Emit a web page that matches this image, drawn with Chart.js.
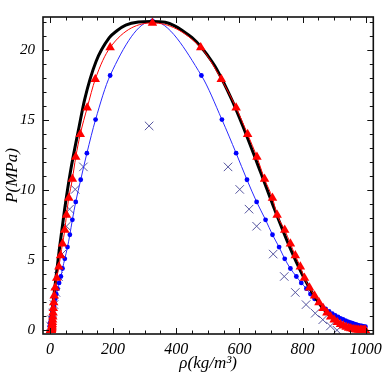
<!DOCTYPE html>
<html lang="en">
<head>
<meta charset="UTF-8">
<title>P vs rho</title>
<script src="https://cdnjs.cloudflare.com/ajax/libs/Chart.js/4.4.1/chart.umd.min.js"></script>
<style>
  html, body { margin: 0; padding: 0; background: #fff; }
  #wrap { width: 388px; height: 382px; }
</style>
</head>
<body>
<div id="wrap"><canvas id="chart"></canvas></div>
<script>
// reference coexistence curve (thick black)
const blackRho = [0.005, 0.6, 2.55, 7.86, 12.8, 20.1, 30.7, 46.2, 64.6, 92.8, 110, 146, 188, 212, 240, 280, 322,
                  365, 395, 420, 450, 480, 513, 527.6, 574.7, 610.7, 667.1, 712.1, 759, 799.1, 834, 864.7, 917, 958.4, 999.8];
const blackP   = [0.0006, 0.101, 0.476, 1.555, 2.548, 3.976, 5.95, 8.588, 11.29, 14.59, 16.5, 19.2, 20.9, 21.4, 21.8, 22.02, 22.06,
                  22.0, 21.75, 21.4, 20.9, 20.2, 19.2, 18.67, 16.53, 14.59, 11.29, 8.588, 5.95, 3.976, 2.548, 1.555, 0.476, 0.101, 0.0006];

// red model (triangles + thin line)
const redRho = [2.0, 2.4, 2.8, 3.2, 3.6, 4.0, 4.4, 4.8, 5.2, 5.6, 6.0, 6.4, 6.8, 7.2, 7.8, 8.4, 9.0, 9.8, 10.8, 12.0,
                13.5, 16.5, 21.5, 28.3, 33.6, 39.8, 47, 52.4, 59.7, 71, 81.7, 96, 118, 143.5, 190.6, 324.6,
                477.5, 542.5, 589.6, 626, 655.5, 679.6, 704.7, 719.5, 743.5, 761.5, 777, 793, 806, 822, 838,
                852, 865, 877, 889, 900, 910, 920, 929, 938, 946, 953, 960, 966, 972, 978, 984, 988, 992, 996, 999];
const redP   = [0.0013, 0.0025, 0.0045, 0.008, 0.013, 0.021, 0.034, 0.052, 0.078, 0.115, 0.165, 0.23, 0.32, 0.43, 0.57, 0.75, 0.97, 1.24, 1.57, 1.98,
                2.47, 3.04, 3.73, 4.53, 5.33, 6.18, 7.16, 8.24, 9.44, 10.8, 12.37, 14.0, 15.9, 17.93, 20.2, 21.96,
                20.2, 17.93, 15.9, 14.0, 12.37, 10.8, 9.44, 8.24, 7.16, 6.18, 5.33, 4.53, 3.73, 3.04, 2.47,
                1.98, 1.57, 1.24, 0.97, 0.75, 0.57, 0.43, 0.32, 0.23, 0.165, 0.115, 0.078, 0.052, 0.034, 0.021, 0.013, 0.008, 0.0045, 0.0025, 0.0013];

// blue model (dots + thin line)
const blueRho = [0, 0.2, 0.45, 0.7, 1.0, 1.3, 1.7, 2.1, 2.6, 3.1, 3.7, 4.4, 5.1, 5.9, 6.8, 7.8, 9, 10.5, 12.5, 14.5, 17,
                 20, 24, 29, 34.6, 39.8, 47, 55.6, 63, 71, 81.7, 97.4, 117, 144.5, 190.6, 324.6,
                 479.6, 544.6, 589.6, 624, 654.5, 682.8, 704.7, 725.7, 743.5, 761.5, 780.3, 796, 812, 825,
                 838, 850, 862, 873, 884, 894, 903, 912, 920, 928, 936, 943, 950, 957, 963, 969, 975, 981, 987, 993, 999];
const blueP   = [0.25, 0.27, 0.3, 0.33, 0.37, 0.41, 0.45, 0.5, 0.56, 0.62, 0.69, 0.77, 0.85, 0.95, 1.06, 1.19, 1.34, 1.52, 1.73, 1.97, 2.25,
                 2.58, 2.97, 3.38, 3.84, 4.41, 5.1, 5.94, 6.82, 7.89, 9.17, 10.75, 12.65, 15.05, 18.2, 22.1,
                 18.2, 15.05, 12.65, 10.75, 9.17, 7.89, 6.82, 5.94, 5.1, 4.41, 3.84, 3.38, 2.97, 2.58,
                 2.25, 1.97, 1.73, 1.52, 1.34, 1.19, 1.06, 0.95, 0.85, 0.77, 0.69, 0.62, 0.56, 0.5, 0.45, 0.41, 0.37, 0.33, 0.3, 0.27, 0.25];

// crosses
const crossRho = [2, 5, 9, 13, 19, 27, 38, 52, 62, 80, 106, 314, 564, 601, 630.5, 654.5, 707, 742, 777, 811, 840, 864, 888, 909];
const crossP   = [0.3, 0.75, 1.21, 1.83, 2.7, 3.84, 5.44, 7.43, 8.65, 10.06, 11.67, 14.6, 11.67, 10.06, 8.65, 7.43, 5.44, 3.84, 2.7, 1.83, 1.21, 0.75, 0.3, 0];

const xTicks = [0, 200, 400, 600, 800, 1000];
const yTicks = [0, 5, 10, 15, 20];

function pts(xs, ys) {
  return xs.map((v, i) => ({x: v, y: ys[i]}));
}

const serif = '"Liberation Serif", "DejaVu Serif", serif';

// frame with inward ticks on all four sides
const frameTicks = {
  id: 'frameTicks',
  afterDraw(chart) {
    const {ctx, chartArea: a, scales: {x, y}} = chart;
    ctx.save();
    ctx.strokeStyle = '#111';
    ctx.lineWidth = 1;
    ctx.beginPath();
    for (let v = 0; v <= 1000; v += 50) {
      const px = Math.round(x.getPixelForValue(v)) + 0.5;
      const len = v % 200 === 0 ? 6 : 3.5;
      ctx.moveTo(px, a.bottom); ctx.lineTo(px, a.bottom - len);
      ctx.moveTo(px, a.top); ctx.lineTo(px, a.top + len);
    }
    for (let v = 0; v <= 22; v += 1) {
      const py = Math.round(y.getPixelForValue(v)) + 0.5;
      const len = v % 5 === 0 ? 6 : 3.5;
      ctx.moveTo(a.left, py); ctx.lineTo(a.left + len, py);
      ctx.moveTo(a.right, py); ctx.lineTo(a.right - len, py);
    }
    ctx.stroke();
    ctx.lineWidth = 1.6;
    ctx.strokeRect(a.left, a.top, a.right - a.left, a.bottom - a.top);
    ctx.restore();
  }
};

new Chart(document.getElementById('chart'), {
  type: 'scatter',
  data: {
    datasets: [
      {
        data: pts(redRho, redP),
        showLine: true,
        borderColor: '#ff0000',
        borderWidth: 1,
        pointStyle: 'triangle',
        pointRadius: 5.5,
        pointBackgroundColor: '#ff0000',
        pointBorderColor: '#ff0000',
        pointBorderWidth: 0,
        cubicInterpolationMode: 'monotone',
        order: 0
      },
      {
        data: pts(blackRho, blackP),
        showLine: true,
        borderColor: '#000000',
        borderWidth: 3,
        pointRadius: 0,
        cubicInterpolationMode: 'monotone',
        order: 1
      },
      {
        data: pts(blueRho, blueP),
        showLine: true,
        borderColor: '#2a2aff',
        borderWidth: 1,
        pointStyle: 'circle',
        pointRadius: 2.4,
        pointBackgroundColor: '#0000ff',
        pointBorderColor: '#0000ff',
        pointBorderWidth: 0,
        cubicInterpolationMode: 'monotone',
        order: 2
      },
      {
        data: pts(crossRho, crossP),
        showLine: false,
        pointStyle: 'crossRot',
        pointRadius: 6,
        pointBorderColor: '#55559f',
        pointBorderWidth: 1,
        order: 3
      }
    ]
  },
  options: {
    responsive: true,
    maintainAspectRatio: false,
    animation: false,
    events: [],
    layout: { padding: { top: 3, right: 12, left: 0, bottom: 0 } },
    plugins: { legend: { display: false }, tooltip: { enabled: false } },
    scales: {
      x: {
        type: 'linear',
        min: -22,
        max: 1024,
        afterBuildTicks: s => { s.ticks = xTicks.map(v => ({value: v})); },
        afterFit: s => { s.height = 48; },
        grid: { display: false, drawTicks: false },
        border: { display: false },
        ticks: {
          color: '#000', padding: 6, maxRotation: 0,
          callback: v => String(v),
          font: { family: serif, style: 'italic', size: 16 }
        },
        title: {
          display: true,
          text: 'ρ(kg/m³)',
          color: '#000',
          padding: { top: 0, bottom: 8 },
          font: { family: serif, style: 'italic', size: 17 }
        }
      },
      y: {
        type: 'linear',
        min: -0.27,
        max: 22.38,
        afterBuildTicks: s => { s.ticks = yTicks.map(v => ({value: v})); },
        afterFit: s => { s.width = 43; },
        grid: { display: false, drawTicks: false },
        border: { display: false },
        ticks: {
          color: '#000', padding: 8,
          callback: v => String(v),
          font: { family: serif, style: 'italic', size: 15 }
        },
        title: {
          display: true,
          text: 'P(MPa)',
          color: '#000',
          padding: { top: 2, bottom: 0 },
          font: { family: serif, style: 'italic', size: 17 }
        }
      }
    }
  },
  plugins: [frameTicks]
});
</script>
</body>
</html>
